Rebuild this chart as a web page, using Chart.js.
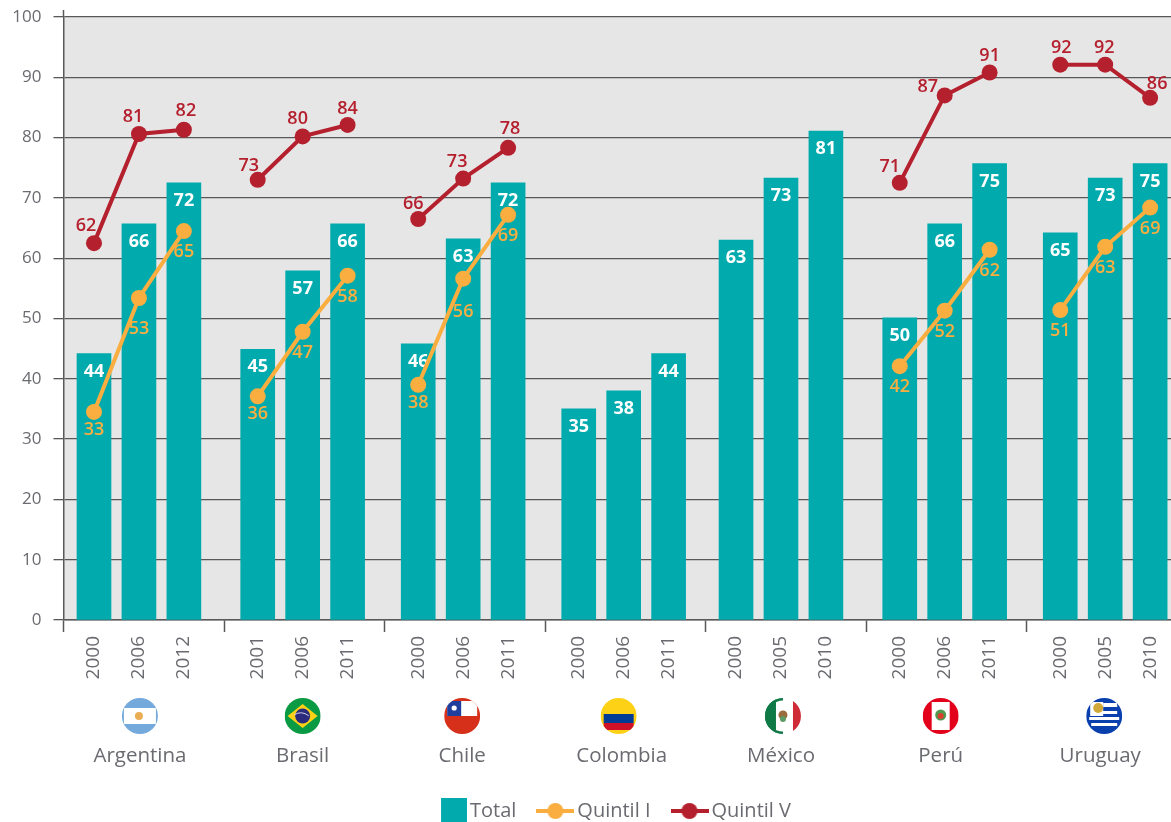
<!DOCTYPE html>
<html lang="es">
<head>
<meta charset="utf-8">
<title>Quintiles por país</title>
<script src="https://cdn.jsdelivr.net/npm/chart.js@4"></script>
<style>
html,body{margin:0;padding:0;background:#fff;overflow:hidden}
#wrap{position:relative;width:1171px;height:822px}
canvas{display:block}
</style>
</head>
<body>
<div id="wrap"><canvas id="c" width="1171" height="822"></canvas></div>
<script>
// ---- data ----
const countries = ['Argentina','Brasil','Chile','Colombia','México','Perú','Uruguay'];
const years = [2000,2006,2012, 2001,2006,2011, 2000,2006,2011, 2000,2006,2011, 2000,2005,2010, 2000,2006,2011, 2000,2005,2010];
const totalValues = [44.2,65.7,72.5, 44.9,57.9,65.7, 45.8,63.2,72.5, 35,38,44.2, 63,73.3,81.1, 50.1,65.7,75.7, 64.2,73.3,75.7];
const totalLabels = [44,66,72, 45,57,66, 46,63,72, 35,38,44, 63,73,81, 50,66,75, 65,73,75];
const q1Values = [34.5,53.4,64.5, 37.1,47.8,57.1, 39,56.6,67.2, null,null,null, null,null,null, 42.1,51.3,61.4, 51.4,61.9,68.4];
const q1Labels = [33,53,65, 36,47,58, 38,56,69, null,null,null, null,null,null, 42,52,62, 51,63,69];
const q5Values = [62.5,80.6,81.3, 73,80.2,82.1, 66.5,73.2,78.3, null,null,null, null,null,null, 72.5,87,90.8, 92.1,92.1,86.6];
const q5Labels = [62,81,82, 73,80,84, 66,73,78, null,null,null, null,null,null, 71,87,91, 92,92,86];
const yTicks = [0,10,20,30,40,50,60,70,80,90,100];

// ---- layout of the category axis (fine slots so groups can breathe) ----
const SLOTS_PER_GROUP = 50, BAR_STEP = 14, TOTAL_SLOTS = 345;
const groupLead = [9,10,10,10,9,10,10];
const slotOf = [], barKeys = [];
countries.forEach((c,g)=>{ for(let b=0;b<3;b++){
  slotOf.push(g*SLOTS_PER_GROUP+groupLead[g]+b*BAR_STEP);
  barKeys.push(c+' '+years[g*3+b]);
}});
const slotLabels = Array.from({length:TOTAL_SLOTS},(_,i)=>'·'+i);
const yearBySlot = {};
slotOf.forEach((s,i)=>{ slotLabels[s]=barKeys[i]; yearBySlot[s]=String(years[i]); });
const barData = totalValues.map((v,i)=>({x:barKeys[i],y:v}));
const lineData = vals => vals.map((v,i)=>v==null?null:{x:barKeys[i],y:v}).filter(Boolean);
const present = arr => arr.filter(v=>v!=null);

// ---- styles ----
const TEAL='#00aaad', ORANGE='#fbae40', RED='#b5202e', DARK='#58585a', TXT='#6a6b70';
const FONT='"Open Sans", Lato, sans-serif';
const nameNudge = [1,0,-1,-2,0,-4,-5];
const flagNudge = [1,0,-1,-5,2,-4,-1];
const q5Offset = [[-8,-17],[-6,-17],[2,-19]];
const q5Nudge = {3:[-9,-14],4:[-5,-18],5:[0,-16],6:[-5,-15],9:[-10,-16],10:[-17,-9],11:[0,-17],12:[1,-17],13:[-1,-17],14:[7,-14]};
const q1Drop = {0:18,1:31,3:18,6:18,7:33};

function swatch(kind,color){
  const c=document.createElement('canvas');
  const x=c.getContext('2d');
  if(kind==='box'){ c.width=38;c.height=26; x.fillStyle=color; x.fillRect(12,0,26,26); }
  else{ c.width=38;c.height=18; x.strokeStyle=color; x.lineWidth=4; x.beginPath(); x.moveTo(0,9); x.lineTo(38,9); x.stroke();
    x.fillStyle=color; x.beginPath(); x.arc(19,9,8,0,Math.PI*2); x.fill(); }
  return c;
}
const swatches=[swatch('box',TEAL),swatch('line',ORANGE),swatch('line',RED)];

function drawFlag(ctx,i,cx,cy,r){
  ctx.save();
  ctx.beginPath(); ctx.arc(cx,cy,r,0,Math.PI*2); ctx.clip();
  const R=(x,y,w,h,col)=>{ctx.fillStyle=col;ctx.fillRect(cx+x,cy+y,w,h);};
  const C=(x,y,rr,col)=>{ctx.fillStyle=col;ctx.beginPath();ctx.arc(cx+x,cy+y,rr,0,Math.PI*2);ctx.fill();};
  switch(i){
    case 0: R(-r,-r,2*r,2*r,'#74a9dc'); R(-r+2,-8,2*r-4,16,'#fff'); C(-1,0,4,'#e9ad55'); break;
    case 1: R(-r,-r,2*r,2*r,'#0a9a44');
      ctx.fillStyle='#fbd116';ctx.beginPath();ctx.moveTo(cx-15,cy);ctx.lineTo(cx,cy-12);ctx.lineTo(cx+15,cy);ctx.lineTo(cx,cy+12);ctx.closePath();ctx.fill();
      C(0,0,7.5,'#2c2a7c'); ctx.strokeStyle='#cfd3e6';ctx.lineWidth=1;ctx.beginPath();ctx.arc(cx-2,cy+10,13,-2.1,-0.9);ctx.stroke(); break;
    case 2: R(-r,-r,2*r,2*r,'#d7301a'); R(-15,-15,30,15,'#fff'); R(-15,-15,14,15,'#1f3f9e');
      C(-8,-8,2.6,'#fff'); break;
    case 3: R(-r,-r,2*r,2*r,'#fdd116'); R(-15,-2,30,9,'#003c96'); R(-15,7,30,7,'#ce1126'); break;
    case 4: R(-r,-r,r*2,r*2,'#fff'); R(-r,-r,11,2*r,'#0f7a45'); R(10,-r,8,2*r,'#ce2b37');
      ctx.lineWidth=3;ctx.strokeStyle='#0f7a45';ctx.beginPath();ctx.arc(cx,cy,r-1,Math.PI*.5,Math.PI*1.5);ctx.stroke();
      C(0,-1,4.5,'#9a6b3c'); C(0,3,3,'#5e9a63'); break;
    case 5: R(-r,-r,2*r,2*r,'#e3001b'); R(-9,-14,18,28,'#fff'); C(0,-1,5.5,'#4f9a4e'); C(0,0,3,'#d9402e'); break;
    default: R(-r,-r,2*r,2*r,'#0a3fae'); R(-13,-5,26,3,'#fff'); R(-15,1,30,3,'#fff'); R(-13,7,26,3,'#fff'); R(-1,-13,14,4,'#fff'); R(-14,-14,13,14,'#fff'); C(-6,-8,5,'#d1a93a');
  }
  ctx.restore();
}

const framePlugin={
  id:'frame',
  afterLayout(chart){
    const lg=chart.legend;
    lg.left+=28; lg.right+=28; lg.top=774; lg.bottom=lg.top+lg.height;
  },
  beforeDraw(chart){
    const {ctx,chartArea:a}=chart;
    ctx.save(); ctx.fillStyle='#e6e6e6'; ctx.fillRect(a.left,a.top,a.right-a.left,a.bottom-a.top); ctx.restore();
  },
  afterDatasetDraw(chart,args){
    if(args.index!==0) return;
    const {ctx}=chart;
    const meta=chart.getDatasetMeta(0);
    ctx.save(); ctx.font='700 18px '+FONT; ctx.fillStyle='#fff'; ctx.textAlign='center'; ctx.textBaseline='middle';
    meta.data.forEach((p,i)=>ctx.fillText(totalLabels[i],p.x,p.y+18));
    ctx.restore();
  },
  afterDatasetsDraw(chart){
    const {ctx}=chart;
    ctx.save(); ctx.font='600 18px '+FONT; ctx.textAlign='center'; ctx.textBaseline='middle';
    const l1=present(q1Labels), l5=present(q5Labels);
    ctx.fillStyle=ORANGE;
    chart.getDatasetMeta(1).data.forEach((p,i)=>ctx.fillText(l1[i],p.x,p.y+(q1Drop[i]||21)));
    ctx.fillStyle=RED;
    chart.getDatasetMeta(2).data.forEach((p,i)=>{
      const o=q5Nudge[i]||q5Offset[i%3]; ctx.fillText(l5[i],p.x+o[0],p.y+o[1]);
    });
    ctx.restore();
  },
  afterDraw(chart){
    const {ctx,chartArea:a,scales}=chart;
    ctx.save();
    ctx.strokeStyle=DARK; ctx.lineWidth=1.5; ctx.beginPath(); ctx.moveTo(a.left,10); ctx.lineTo(a.left,a.top); ctx.stroke();
    ctx.font='400 20.5px '+FONT; ctx.textAlign='center'; ctx.textBaseline='middle';
    countries.forEach((name,g)=>{
      const x=scales.x.getPixelForValue(slotOf[g*3+1]);
      drawFlag(ctx,g,x+flagNudge[g],716,18);
      ctx.fillStyle=TXT;
      ctx.fillText(name,x+nameNudge[g],756);
    });
    ctx.restore();
  }
};

const lineStyle=color=>({type:'line',borderColor:color,backgroundColor:color,borderWidth:4,pointRadius:8,pointHoverRadius:8,pointBorderWidth:0,spanGaps:20,tension:0});

new Chart(document.getElementById('c'),{
  type:'bar',
  data:{
    labels:slotLabels,
    datasets:[
      {label:'Total',data:barData,backgroundColor:TEAL,barThickness:34,order:3},
      {...lineStyle(ORANGE),label:'Quintil I',data:lineData(q1Values),order:2},
      {...lineStyle(RED),label:'Quintil V',data:lineData(q5Values),order:1}
    ]
  },
  plugins:[framePlugin],
  options:{
    responsive:false,animation:false,
    layout:{autoPadding:false,padding:{top:17,left:0,right:0,bottom:0}},
    plugins:{
      tooltip:{enabled:false},
      legend:{
        position:'bottom',
        labels:{
          usePointStyle:true,pointStyleWidth:24,padding:27,color:TXT,font:{family:FONT,size:20,weight:'400'},
          generateLabels:chart=>chart.data.datasets.map((d,i)=>({text:d.label,fillStyle:d.backgroundColor,strokeStyle:d.backgroundColor,lineWidth:0,pointStyle:swatches[i],datasetIndex:i,hidden:false,fontColor:TXT}))
        }
      }
    },
    scales:{
      x:{
        type:'category',
        afterFit(ax){ax.height=145;ax.paddingLeft=0;ax.paddingRight=0;},
        border:{display:true,color:DARK,width:1.5},
        grid:{drawOnChartArea:false,drawTicks:true,tickLength:12,offset:true,
          tickColor:c=>(c.index%SLOTS_PER_GROUP===0?DARK:'rgba(0,0,0,0)'),
          tickWidth:c=>(c.index%SLOTS_PER_GROUP===0?1.5:0)},
        ticks:{autoSkip:false,minRotation:90,maxRotation:90,padding:4,color:TXT,font:{family:FONT,size:19,weight:'400'},
          callback(v,i){return yearBySlot[i]||'';}}
      },
      y:{
        min:0,max:100,
        afterFit(ax){ax.width=63.5;ax.paddingTop=0;ax.paddingBottom=0;},
        afterBuildTicks(ax){ax.ticks=yTicks.map(v=>({value:v}));},
        border:{display:true,color:DARK,width:1.5},
        grid:{color:DARK,lineWidth:1.3,tickLength:10,tickColor:DARK},
        ticks:{padding:12,color:TXT,font:{family:FONT,size:17,weight:'400'}}
      }
    }
  }
});
</script>
</body>
</html>
